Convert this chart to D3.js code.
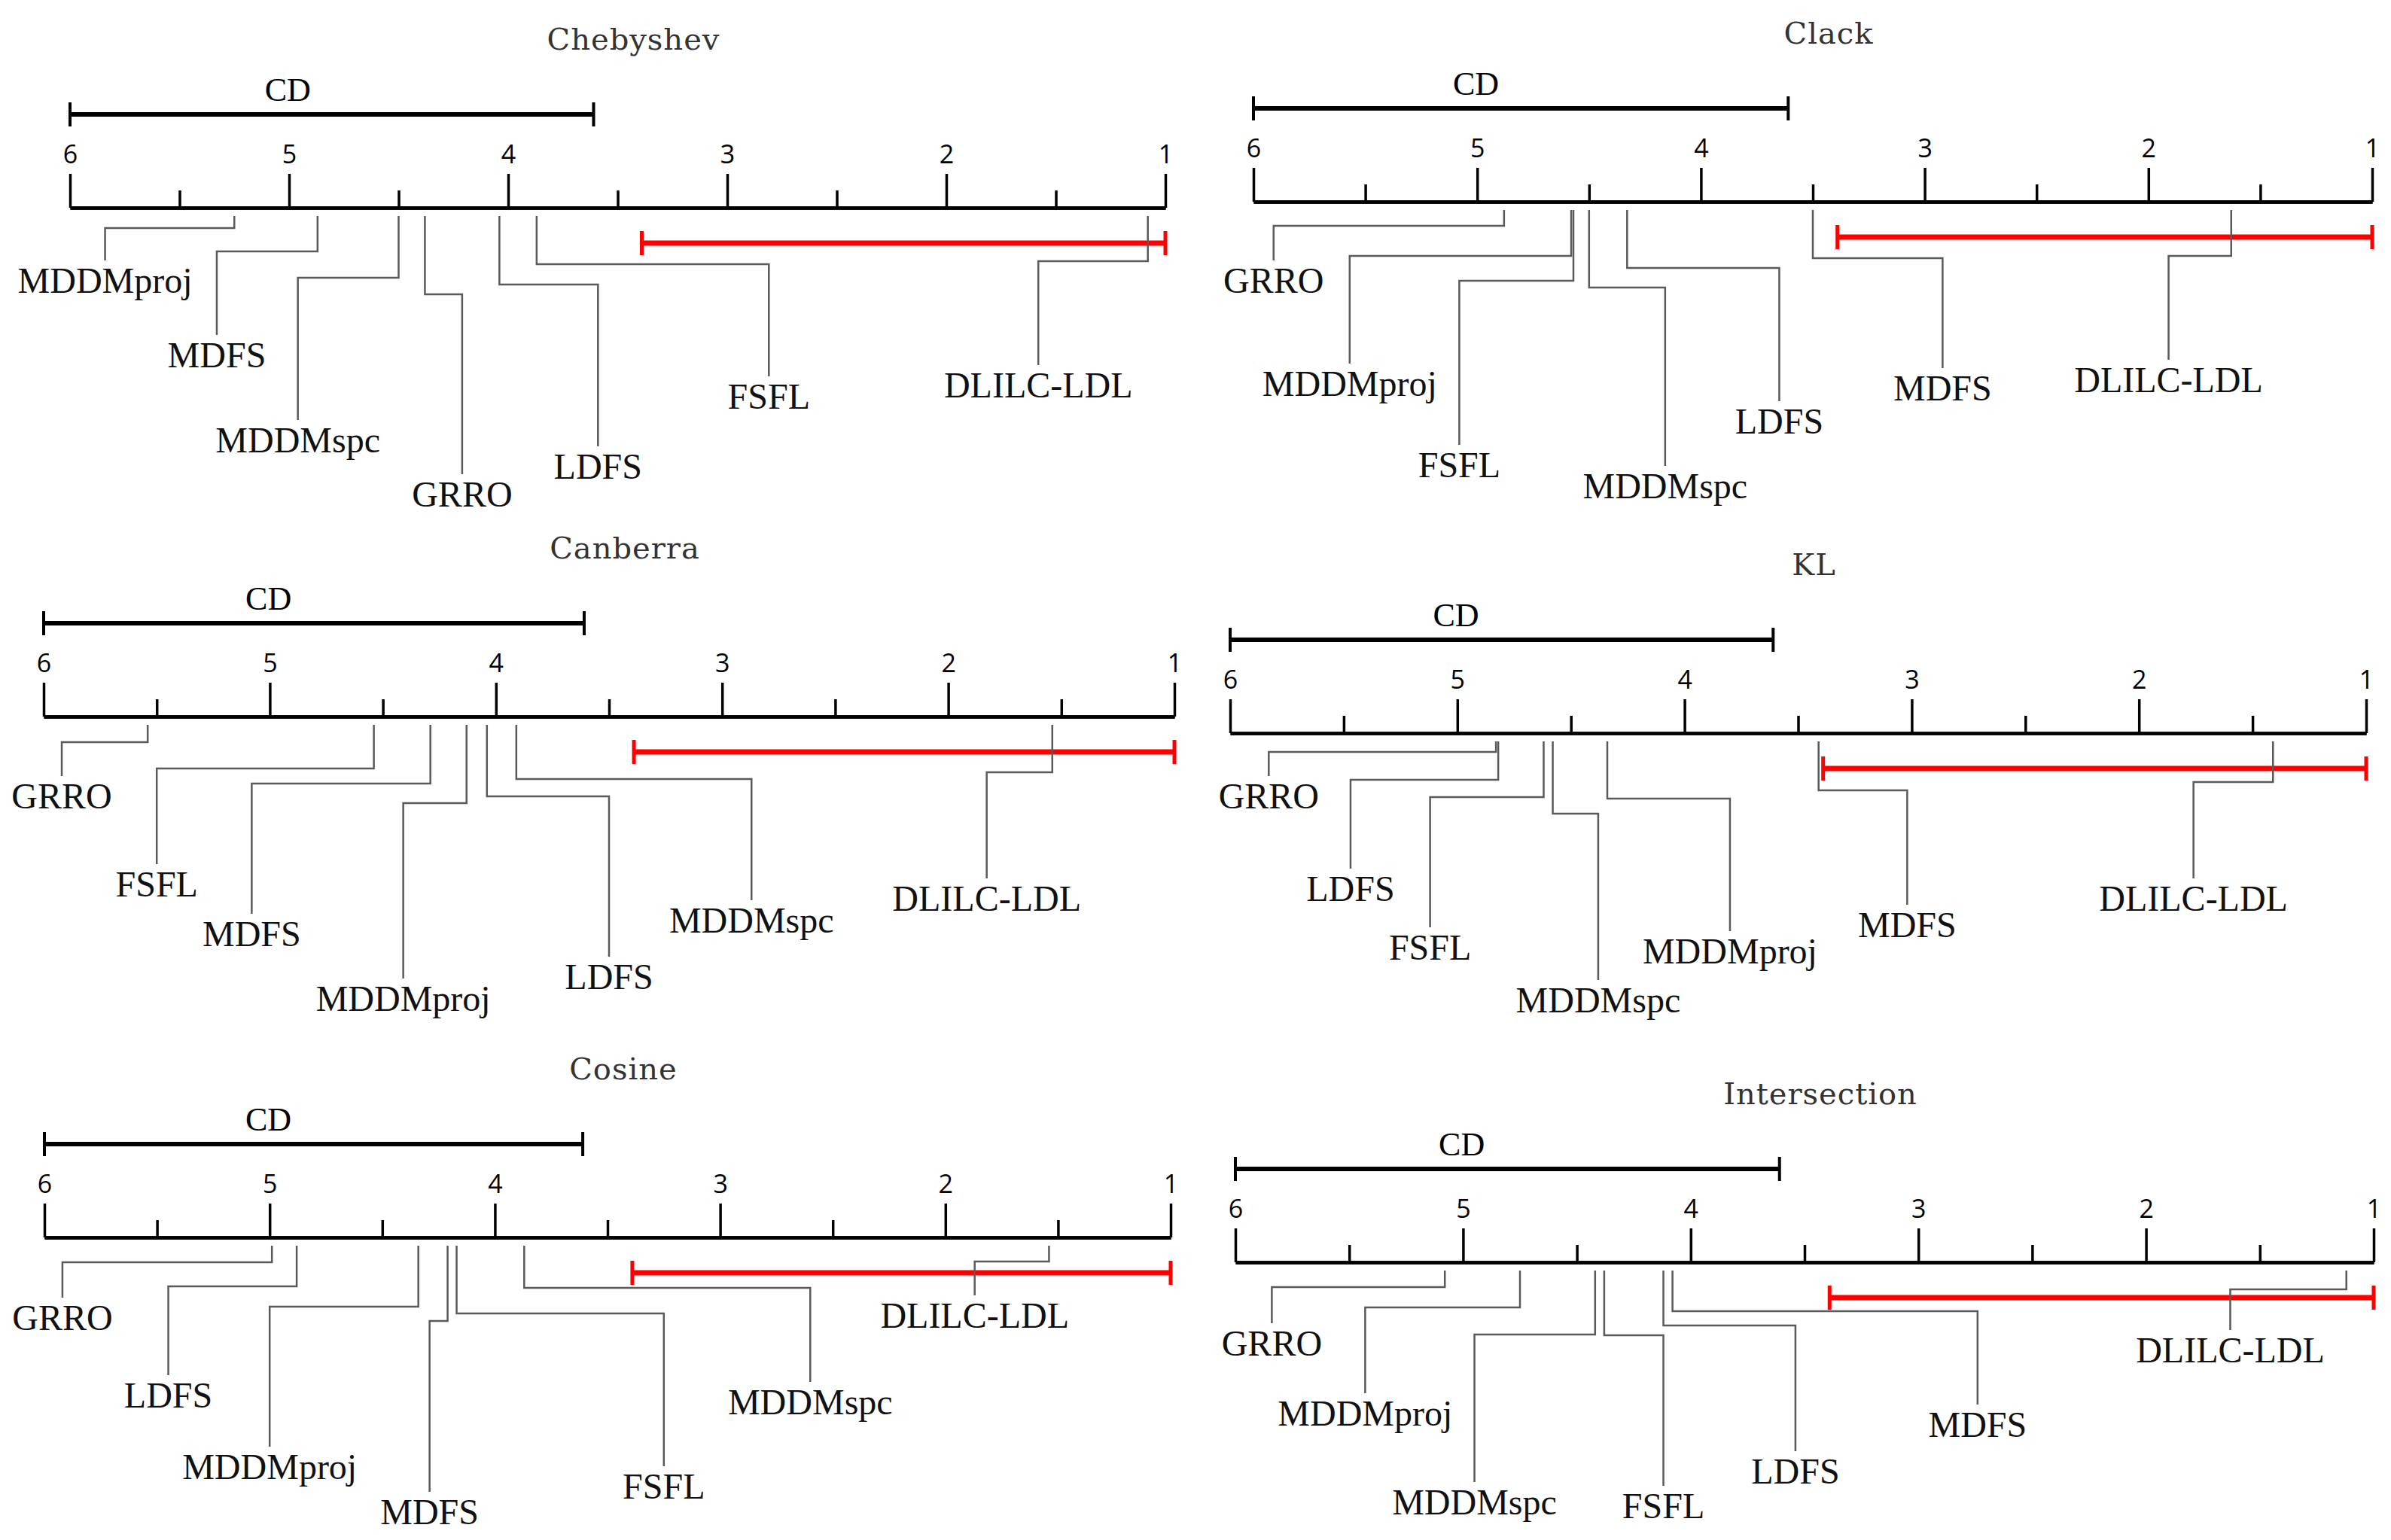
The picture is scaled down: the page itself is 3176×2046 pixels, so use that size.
<!DOCTYPE html>
<html>
<head>
<meta charset="utf-8">
<script src="https://cdn.jsdelivr.net/npm/d3@7"></script>
<style>
  body { margin: 0; background: #fff; }
</style>
</head>
<body>
<div id="chart"></div>
<script>
// methods, same order in every rank array
var methods = ['GRRO', 'MDDMproj', 'MDDMspc', 'MDFS', 'LDFS', 'FSFL', 'DLILC-LDL'];

// average ranks
var chebyshevRanks    = [4.38, 5.25, 4.50, 4.87, 4.04, 3.87, 1.08];
var clackRanks        = [4.88, 4.58, 4.50, 3.50, 4.33, 4.57, 1.63];
var canberraRanks     = [5.54, 4.13, 3.91, 4.29, 4.04, 4.54, 1.54];
var klRanks           = [4.83, 4.34, 4.58, 3.41, 4.82, 4.62, 1.41];
var cosineRanks       = [4.99, 4.34, 3.87, 4.21, 4.88, 4.17, 1.54];
var intersectionRanks = [5.08, 4.75, 4.42, 4.08, 4.12, 4.38, 1.12];

var titles = ['Chebyshev', 'Clack', 'Canberra', 'KL', 'Cosine', 'Intersection'];
var cd = 2.39;
var majorTicks = [6, 5, 4, 3, 2, 1];
var minorTicks = [5.5, 4.5, 3.5, 2.5, 1.5];

// label layout: [label position on rank axis, elbow depth, label baseline depth]
var chebyshevLabels    = [[4.21,115,397],[5.84,27,113],[4.96,93,325],[5.33,58,212],[3.59,102,360],[2.81,75,267],[1.58,71,252]];
var clackLabels        = [[5.91,32,121],[5.57,72,258],[4.16,114,394],[2.92,75,264],[3.65,88,308],[5.08,105,366],[1.91,72,253]];
var canberraLabels     = [[5.92,34,122],[4.41,115,391],[2.87,83,287],[5.08,89,305],[3.50,106,362],[5.50,69,239],[1.83,74,258]];
var klLabels           = [[5.83,25,100],[3.80,87,306],[4.38,107,371],[3.02,76,271],[5.47,62,223],[5.12,85,301],[1.76,65,236]];
var cosineLabels       = [[5.92,33,123],[5.00,92,321],[2.60,67,235],[4.29,111,381],[5.45,65,226],[3.25,101,347],[1.87,32,120]];
var intersectionLabels = [[5.84,33,124],[5.43,60,217],[4.95,96,335],[2.74,65,232],[3.54,84,294],[4.12,97,340],[1.63,36,133]];

// panel frames: axis left, axis right, axis y
var frames = [[93,1548,276],[1665,3151,268],[58,1560,952],[1634,3143,974],[59,1555,1644],[1641,3153,1677]];

var allRanks = [chebyshevRanks, clackRanks, canberraRanks, klRanks, cosineRanks, intersectionRanks];
var allLabels = [chebyshevLabels, clackLabels, canberraLabels, klLabels, cosineLabels, intersectionLabels];

var width = 3176,
    height = 2046;

var svg = d3.select('#chart')
    .append('svg')
    .attr('width', width)
    .attr('height', height)
    .attr('viewBox', '0 0 ' + width + ' ' + height)
;

titles.forEach(function(title, p) {
    var f = frames[p];
    var y0 = f[2];
    var x = d3.scaleLinear().domain([6, 1]).range([f[0], f[1]]);
    var g = svg.append('g');

    // title
    g.append('text')
        .attr('x', (f[0] + f[1]) / 2 + 21)
        .attr('y', y0 - 210)
        .attr('text-anchor', 'middle')
        .style('font-family', '"DejaVu Serif", serif')
        .style('font-size', '40px')
        .style('letter-spacing', '1px')
        .style('fill', '#333')
        .text(title);

    // CD bar
    var cdG = g.append('g').attr('transform', 'translate(0,' + (y0 - 124) + ')');
    cdG.append('line')
        .attr('x1', x(6)).attr('x2', x(6 - cd))
        .attr('stroke', '#000').attr('stroke-width', 6);
    [6, 6 - cd].forEach(function(v) {
        cdG.append('line')
            .attr('x1', x(v)).attr('x2', x(v))
            .attr('y1', -16).attr('y2', 16)
            .attr('stroke', '#000').attr('stroke-width', 4);
    });
    cdG.append('text')
        .attr('x', x(6) + 0.416 * (x(6 - cd) - x(6)))
        .attr('y', -18)
        .attr('text-anchor', 'middle')
        .style('font-family', '"Liberation Serif", serif')
        .style('font-size', '44px')
        .text('CD');

    // axis with major and minor ticks
    var axisG = g.append('g').attr('transform', 'translate(0,' + y0 + ')');
    axisG.call(d3.axisTop(x).tickValues(minorTicks).tickSize(23).tickSizeOuter(0).tickFormat(''));
    axisG.append('g').call(d3.axisTop(x).tickValues(majorTicks).tickSize(45).tickSizeOuter(0)
        .tickPadding(14).tickFormat(d3.format('d')));
    axisG.selectAll('.domain')
        .attr('stroke', '#000').attr('stroke-width', 4.5);
    axisG.selectAll('.tick line')
        .attr('stroke', '#000').attr('stroke-width', 3.5);
    axisG.selectAll('.tick text')
        .style('font-family', '"Open Sans", sans-serif')
        .style('font-size', '34px')
        .style('fill', '#000');

    // red non-significance bar from best rank
    var redG = g.append('g').attr('transform', 'translate(0,' + (y0 + 47) + ')');
    redG.append('line')
        .attr('x1', x(1)).attr('x2', x(1 + cd))
        .attr('stroke', '#ff0000').attr('stroke-width', 7);
    [1, 1 + cd].forEach(function(v) {
        redG.append('line')
            .attr('x1', x(v)).attr('x2', x(v))
            .attr('y1', -16).attr('y2', 16)
            .attr('stroke', '#ff0000').attr('stroke-width', 5);
    });

    // connectors and method labels
    var items = methods.map(function(m, i) {
        return { name: m, rank: allRanks[p][i], lay: allLabels[p][i] };
    });

    g.selectAll('path.link')
        .data(items)
        .enter()
        .append('path')
        .attr('class', 'link')
        .attr('fill', 'none')
        .attr('stroke', '#5a5a5a')
        .attr('stroke-width', 2.5)
        .attr('d', function(d) {
            var xr = x(d.rank), xl = x(d.lay[0]);
            var ye = y0 + d.lay[1], yb = y0 + d.lay[2] - 43;
            return 'M' + xr + ',' + (y0 + 11) + 'V' + ye + 'H' + xl + 'V' + yb;
        });

    g.selectAll('text.method')
        .data(items)
        .enter()
        .append('text')
        .attr('class', 'method')
        .attr('x', function(d) { return x(d.lay[0]); })
        .attr('y', function(d) { return y0 + d.lay[2]; })
        .attr('text-anchor', 'middle')
        .style('font-family', '"Liberation Serif", serif')
        .style('font-size', '48px')
        .style('fill', '#111')
        .text(function(d) { return d.name; });
});
</script>
</body>
</html>
